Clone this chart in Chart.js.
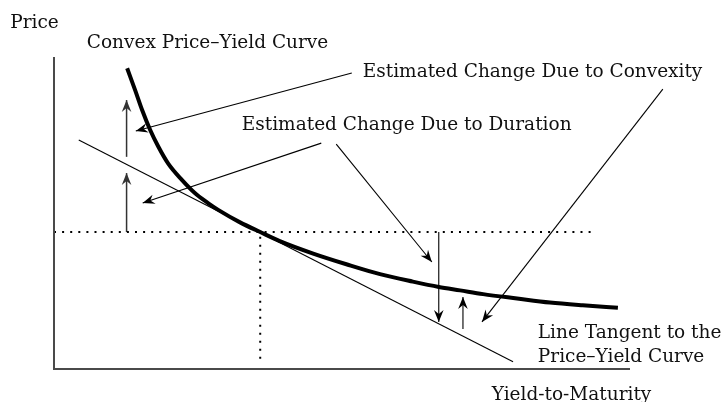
<!DOCTYPE html>
<html>
<head>
<meta charset="utf-8">
<script src="https://cdn.jsdelivr.net/npm/chart.js@4.4.1/dist/chart.umd.min.js"></script>
<style>
html,body{margin:0;padding:0;background:#fff;}
#c{display:block;}
</style>
</head>
<body>
<canvas id="c" width="721" height="402"></canvas>
<script>
// ---- Data (abstract units: yield 0..100 along axis, price 0..100 along axis) ----
const curveYield = [12.7, 14.1, 15.3, 16.7, 18.1, 19.8, 22.2, 24.5, 26.8, 28.5, 32.3, 35.8, 39.2, 45.0, 50.9, 56.6, 62.3, 66.8, 70.5, 74.5, 80.4, 86.1, 91.8, 97.9];
const curvePrice = [96.4, 89.3, 83.0, 76.6, 71.3, 65.9, 60.6, 56.3, 53.1, 51.0, 47.0, 43.9, 41.0, 37.0, 33.5, 30.4, 28.0, 26.3, 25.2, 24.0, 22.6, 21.3, 20.4, 19.6];

const tangentYield = [4.3, 79.7];
const tangentPrice = [73.4, 2.3];

const baseYield = 35.8;   // point of tangency
const basePrice = 43.9;
const refLineEndYield = 93.6;

const axisYield = [0, 100];
const axisPrice = [0, 100];

// arrows: from (yield, price) to (yield, price)
const arrowFromYield = [12.6, 12.6, 51.7, 46.4, 49.0, 66.8, 71.0, 105.7];
const arrowFromPrice = [68.0, 43.9, 94.9, 72.4, 72.1, 43.9, 12.8, 89.7];
const arrowToYield   = [12.6, 12.6, 14.2, 15.4, 65.6, 66.8, 71.0, 74.3];
const arrowToPrice   = [86.2, 62.8, 76.3, 53.2, 34.3, 15.1, 23.1, 15.1];

const labelTexts = ["Price", "Convex Price\u2013Yield Curve", "Estimated Change Due to Convexity",
  "Estimated Change Due to Duration", "Line Tangent to the", "Price\u2013Yield Curve", "Yield-to-Maturity"];
const labelYield = [-7.6, 5.7, 53.6, 32.6, 84.0, 84.0, 76.0];
const labelPrice = [109.3, 102.9, 93.6, 76.6, 9.9, 2.2, -9.9];

// ---- Build datasets ----
const pts = (xs, ys) => xs.map((x, i) => ({x: x, y: ys[i]}));

const datasets = [];
// axes
datasets.push({data: [{x: axisYield[0], y: axisPrice[1]}, {x: axisYield[0], y: axisPrice[0]}, {x: axisYield[1], y: axisPrice[0]}],
  borderColor: '#4a4a4a', borderWidth: 2, showLine: true, pointRadius: 0, tension: 0});
// dotted reference lines
datasets.push({data: [{x: 0, y: basePrice}, {x: refLineEndYield, y: basePrice}],
  borderColor: '#000', borderWidth: 2, borderDash: [2, 6.1], showLine: true, pointRadius: 0});
datasets.push({data: [{x: baseYield, y: basePrice - 1.5}, {x: baseYield, y: 2.2}],
  borderColor: '#000', borderWidth: 2, borderDash: [2, 6], showLine: true, pointRadius: 0});
// tangent
datasets.push({data: pts(tangentYield, tangentPrice), borderColor: '#000', borderWidth: 1.1, showLine: true, pointRadius: 0});
// arrows
for (let i = 0; i < arrowFromYield.length; i++) {
  const vertLeft = i < 2;
  datasets.push({data: [{x: arrowFromYield[i], y: arrowFromPrice[i]}, {x: arrowToYield[i], y: arrowToPrice[i]}],
    borderColor: vertLeft ? '#333' : '#000', borderWidth: vertLeft ? 1.5 : 1.1, showLine: true, pointRadius: 0, arrow: true});
}
// convex curve
datasets.push({data: pts(curveYield, curvePrice), borderColor: '#000', borderWidth: 4, showLine: true, pointRadius: 0,
  cubicInterpolationMode: 'monotone', borderCapStyle: 'butt'});

const arrowPlugin = {
  id: 'arrowheads',
  afterDatasetsDraw(chart) {
    const ctx = chart.ctx;
    chart.data.datasets.forEach((ds, i) => {
      if (!ds.arrow) return;
      const meta = chart.getDatasetMeta(i);
      const a = meta.data[0], b = meta.data[1];
      const ang = Math.atan2(b.y - a.y, b.x - a.x);
      const L = 12, W = 4.8, notch = 8;
      ctx.save();
      ctx.translate(b.x, b.y);
      ctx.rotate(ang);
      ctx.beginPath();
      ctx.moveTo(0, 0);
      ctx.lineTo(-L, -W);
      ctx.lineTo(-notch, 0);
      ctx.lineTo(-L, W);
      ctx.closePath();
      ctx.fillStyle = ds.borderColor;
      ctx.fill();
      ctx.restore();
    });
  }
};

const labelPlugin = {
  id: 'labels',
  afterDraw(chart) {
    const ctx = chart.ctx;
    const xs = chart.scales.x, ys = chart.scales.y;
    ctx.save();
    ctx.fillStyle = '#111';
    ctx.font = '18.5px "DejaVu Serif"';
    ctx.textBaseline = 'alphabetic';
    ctx.textAlign = 'left';
    labelTexts.forEach((t, i) => {
      ctx.fillText(t, xs.getPixelForValue(labelYield[i]), ys.getPixelForValue(labelPrice[i]));
    });
    ctx.restore();
  }
};

new Chart(document.getElementById('c'), {
  type: 'scatter',
  data: {datasets: datasets},
  options: {
    responsive: false,
    animation: false,
    devicePixelRatio: 1,
    layout: {padding: 0},
    plugins: {legend: {display: false}, tooltip: {enabled: false}},
    events: [],
    scales: {
      x: {type: 'linear', display: false, min: -9.375, max: 115.799},
      y: {type: 'linear', display: false, min: -10.577, max: 118.269}
    }
  },
  plugins: [arrowPlugin, labelPlugin]
});
</script>
</body>
</html>
